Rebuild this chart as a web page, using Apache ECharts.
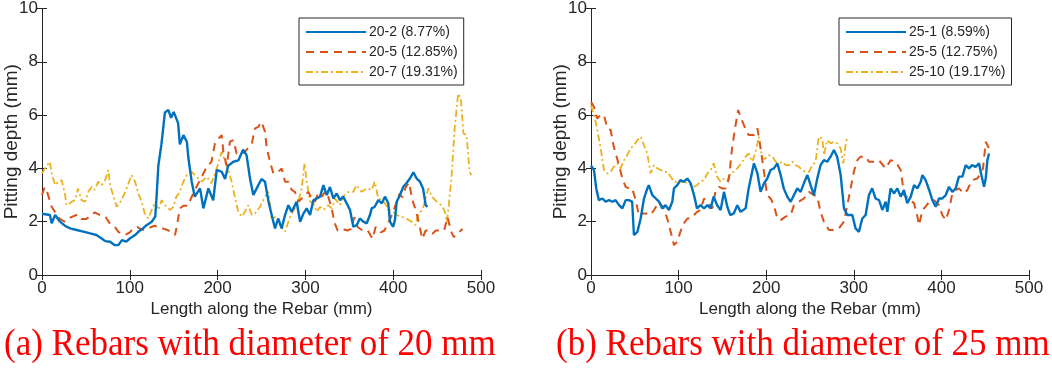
<!DOCTYPE html>
<html>
<head>
<meta charset="utf-8">
<script src="https://cdn.jsdelivr.net/npm/echarts@6/dist/echarts.min.js"></script>
<style>
  html, body { margin: 0; padding: 0; background: #fff; }
  #main { width: 1052px; height: 380px; }
</style>
</head>
<body>
<div id="main"></div>
<script>
// ---- data, [length mm, pitting depth mm] ----
const s20_2 = [[0,2.3],[1.5,2.31],[9,2.25],[11,1.94],[15,2.25],[20.5,2.0],[26,1.85],[32,1.75],[39.5,1.69],[47,1.63],[55,1.56],[62,1.5],[68,1.37],[72,1.27],[77.5,1.25],[83,1.12],[87,1.12],[91,1.31],[96,1.25],[100,1.37],[106,1.5],[110,1.63],[115,1.75],[119,1.87],[125,2.0],[129,2.19],[130.6,3.0],[132.5,4.1],[136,4.9],[140,6.1],[144,6.19],[147,5.9],[150,6.12],[151.5,6.19],[155,5.7],[157,4.9],[161,5.25],[165,5.0],
  [166.7,4.4],[170.5,3.5],[174,2.94],[180,3.25],[183.8,2.5],[189.5,3.25],[195,2.8],[199,3.94],[204.7,3.87],[208.5,3.6],[212,4.1],[218,4.25],[223.6,4.3],[229,4.7],[233,4.5],[237,3.6],[240.7,3.0],[244.5,3.25],[250,3.6],[254,3.5],[258,2.75],[261.6,2.25],[265.4,1.75],[269,2.12],[273,1.75],[276.8,2.25],[280.6,2.62],[284.4,2.37],[290,2.75],[294,2.0],[297.7,2.3],[301.5,2.5],[305.3,2.25],[309,2.8],[313,2.87],[316.7,2.94],[320.5,3.37],[324.3,3.0],
  [328,3.3],[331.8,2.87],[335.6,3.06],[339.4,2.81],[343,2.94],[347,2.69],[350.8,2.44],[354.6,1.81],[358.4,1.87],[362,2.12],[366,2.0],[369.8,1.94],[373.5,2.25],[375.5,2.5],[379,2.56],[383,2.81],[387,2.69],[390.6,2.94],[394.4,2.69],[396.3,2.0],[400,1.81],[402,2.06],[404,2.75],[407.7,3.0],[411.5,3.31],[415,3.44],[419,3.62],[423,3.85],[426.7,3.62],[430.5,3.5],[434,3.25],[437,2.62],[439,2.56]];

const s20_5 = [[0,3.0],[3,3.3],[6,3.1],[11,2.56],[16,2.3],[20.5,2.1],[26,2.0],[32,2.15],[40.6,2.27],[45,2.1],[50,2.1],[55,2.2],[60,2.35],[66,2.25],[72,2.2],[78,1.9],[83,1.8],[87,1.62],[91,1.55],[94.5,1.5],[100,1.6],[104,1.75],[108.6,1.8],[113,1.7],[120,1.7],[124,1.8],[128.7,1.85],[133,1.75],[137,1.75],[142,1.7],[148,1.6],[151.5,1.5],[154,1.9],[157,2.5],[161,2.6],[166.7,2.6],[170,2.9],
  [176,3.31],[182,3.69],[187.6,4.06],[193,4.25],[197,4.94],[201,5.12],[204.7,5.25],[206.6,4.6],[210.4,4.1],[214,5.0],[218,5.06],[221.7,4.56],[225.5,4.5],[231,4.62],[239,4.94],[242.6,5.5],[246.4,5.56],[250,5.75],[252,5.81],[254,5.37],[256,4.75],[259.7,4.25],[263.5,3.81],[269,3.87],[273,4.0],[276.8,3.5],[280.6,3.5],[284.4,3.19],[288,3.12],[292,2.75],[295.8,2.87],[299.6,3.0],[303.4,3.12],[307,2.87],[311,2.75],[314.7,3.12],[318.6,2.94],[322.4,3.12],[326,2.94],[330,2.5],
  [333,1.98],[336.7,1.67],[342,1.73],[348,1.67],[352,1.73],[355.7,2.17],[359.5,1.8],[365,1.67],[371,1.67],[376.5,1.36],[380,1.8],[386,1.6],[390,1.67],[395.5,2.04],[399,2.29],[403,2.66],[407,3.04],[410.6,2.91],[414,3.28],[418,3.47],[422,2.8],[425.8,2.42],[429.5,1.92],[433,1.36],[437,1.67],[441,1.67],[444.7,1.55],[448.5,1.67],[454,1.67],[458,1.67],[462,2.17],[465.5,1.67],[469,1.42],[473,1.55],[479,1.73]];

const s20_7 = [[0,3.81],[3.4,4.0],[9,4.25],[11,3.81],[15,3.37],[18.6,3.5],[22.4,3.56],[26,3.06],[28,2.62],[34,2.75],[37.6,2.81],[41,3.25],[45,2.81],[49,2.75],[52.8,3.12],[56.6,3.31],[60,3.19],[64,3.5],[68,3.37],[72,3.56],[75.5,3.94],[77.5,3.37],[81,3.0],[85,2.56],[90.7,2.81],[96.4,3.25],[102,3.75],[106,3.5],[109.7,3.06],[113.5,2.75],[117,2.31],[121,2.12],[125,2.44],[129,2.75],[132.5,2.44],[136.3,2.81],[140,2.62],[146,2.44],[149.6,2.56],[153,2.94],[157,3.12],[161,3.5],
  [165,3.75],[170.5,3.87],[176,3.69],[182,3.5],[187.6,3.69],[193,3.44],[199,4.0],[204.7,4.62],[208.5,4.25],[212.3,3.94],[216,3.5],[220,2.87],[223.6,2.37],[227.4,2.19],[231,2.37],[235,2.62],[239,2.25],[242.6,2.31],[248.3,2.56],[254,2.94],[258,3.12],[261.6,2.12],[267,2.19],[271,1.87],[276.8,1.62],[280.6,2.0],[284.4,2.31],[288,2.5],[292,2.75],[295.8,3.25],[299,4.19],[301.5,3.5],[305.3,2.75],[309,2.69],[313,2.37],[316.7,2.56],[320.5,2.44],[326,2.62],[330,2.5],
  [333.7,2.87],[339.4,2.62],[343,2.94],[349,3.12],[354.6,3.12],[358,3.37],[364,3.12],[370,3.25],[375.5,3.19],[379,3.5],[383,2.87],[387,2.81],[390.6,2.69],[396,2.44],[400,2.37],[404,2.25],[409.6,2.19],[415,2.12],[421,2.0],[425,1.87],[428.6,2.25],[434,2.5],[440,3.25],[444,2.94],[449.5,2.75],[455,2.62],[459,2.37],[461,2.0],[463,2.5],[466.6,3.75],[470,5.5],[474,6.81],[477,6.62],[480,5.31],[483.6,5.25],[487,3.87],[489,3.75]];

const s25_1 = [[0,4.1],[0.8,4.06],[3.4,3.94],[6,3.25],[9,2.81],[13,2.87],[16.7,2.75],[20.5,2.81],[24.4,2.75],[28,2.81],[32,2.62],[35.8,2.5],[39.6,2.81],[43,2.81],[47,2.75],[49,1.5],[53,1.62],[56.7,2.12],[60.5,2.87],[64.3,3.25],[66,3.37],[70,3.0],[74,2.87],[77.6,2.75],[81.4,2.5],[85,2.62],[89,2.44],[92.8,2.75],[94.7,3.25],[98.5,3.37],[102,3.56],[106,3.5],[110,3.62],[113.8,3.44],[117.6,3.0],[121,2.5],[125,2.62],[129,2.5],[132.8,2.62],[136.6,2.5],[140,2.94],[144,2.62],[148,2.44],[151.8,3.12],[155.6,2.56],[159,2.25],[163,2.31],
  [167,2.62],[170.8,2.37],[176.5,2.5],[180,3.25],[186,4.19],[190,3.81],[193.6,3.12],[197.5,3.44],[201.2,3.62],[205,3.94],[208.8,4.0],[212.7,4.19],[216.5,3.75],[220,3.25],[224,2.94],[227.9,2.75],[231.7,3.0],[235.5,3.25],[239.3,3.12],[243,3.44],[247,3.75],[250.7,3.37],[254.5,3.0],[258.3,3.62],[262,4.12],[265.9,4.31],[269.7,4.25],[273.5,4.44],[277.3,4.69],[281,4.44],[285,3.75],[288.8,2.5],[292.6,2.25],[298.3,2.25],[302,1.75],[305.9,1.62],[309.7,2.12],[313.5,2.25],[317.3,3.0],[321,3.25],[324.9,2.87],
  [328.8,2.81],[332.6,2.44],[336.4,2.75],[338.3,2.37],[342,3.25],[346,3.06],[349.7,3.25],[353.5,2.94],[357.3,3.19],[361,2.69],[365,2.94],[368.8,3.37],[372.6,3.25],[376.4,3.5],[378.3,3.75],[382,3.56],[386,3.19],[389.7,2.81],[393.5,2.56],[397.3,2.87],[401,2.87],[405,3.0],[408.7,3.31],[412.5,3.12],[416.3,3.25],[420,3.69],[424,3.69],[427.7,4.12],[431.5,4.0],[435,4.12],[439,4.06],[443,4.19],[444.8,3.87],[448.7,3.31],[450.6,3.62],[452.5,4.31],[454.4,4.56]];

const s25_5 = [[0,6.5],[3.4,6.31],[7,5.87],[11,6.0],[14.8,6.0],[18.6,5.5],[22.4,5.44],[26,4.81],[28,4.75],[32,4.12],[35.8,3.62],[39.6,3.31],[43.4,3.25],[47,3.25],[51,2.81],[55,2.19],[58.6,2.31],[62.4,2.31],[68,2.25],[72,2.44],[77.6,2.75],[83,2.5],[87,2.12],[91,1.62],[94.7,1.12],[98.6,1.25],[102,1.62],[106,1.94],[110,2.12],[113.8,2.12],[117.6,2.25],[121,2.37],[125,2.44],[129,2.87],[132.8,2.75],[138.5,2.5],[142,3.12],[146,3.31],[150,3.25],[153.7,3.25],[157.5,3.62],[161,4.75],[165,5.62],[168,6.19],
  [171,5.9],[174.6,5.62],[180,5.25],[186,5.25],[190,5.5],[193.6,4.75],[197.5,3.87],[201,3.0],[205,2.87],[208.8,2.62],[212.7,2.12],[216.5,2.06],[222,2.19],[227.9,2.25],[231.7,2.62],[237.4,2.75],[243,2.87],[248.8,3.12],[254.5,3.0],[258.3,2.94],[262,2.37],[265.9,2.0],[271.6,1.69],[277.3,1.69],[283,1.75],[288.8,2.0],[292.6,2.62],[296.4,3.25],[300,3.87],[304,4.31],[307.8,4.44],[313.5,4.44],[317.3,4.25],[323,4.25],[328.7,4.31],
  [336.4,4.0],[342,4.31],[347.8,4.25],[353.5,3.94],[355.4,3.5],[357.3,3.0],[363,2.87],[368.8,2.69],[372.6,2.19],[374.5,1.87],[378.3,2.44],[382,2.56],[386,2.75],[391.6,2.81],[397.3,2.62],[401,2.25],[405,2.06],[408.7,2.44],[412.5,3.06],[416.3,3.19],[420,3.25],[425.8,3.06],[429.6,3.19],[435,3.56],[441,3.62],[444.8,3.81],[447.5,4.0],[450.6,5.0],[454.4,4.75],[458,4.87]];

const s25_10 = [[0,6.37],[3.4,6.0],[7,5.5],[11,4.75],[14.8,3.94],[18.6,3.81],[22.4,3.87],[26,4.06],[30,4.19],[33.9,4.0],[37.7,4.31],[41.5,4.5],[45,4.75],[49,4.87],[53,5.06],[56.7,5.19],[60.5,4.87],[64.3,4.56],[68,3.81],[71.9,4.12],[75.7,4.0],[79.5,3.94],[83,3.87],[87,3.87],[91,3.69],[94.7,3.5],[98.6,3.5],[102,3.5],[106,3.5],[110,3.44],[113.8,3.37],[117.6,3.31],[121,3.37],[125,3.5],[129,3.56],[132.8,3.81],[136.6,3.94],[140,4.19],[144,3.69],[148,3.5],[151.8,3.62],[155.6,3.56],[159,3.81],[163,3.87],
  [167,4.0],[172.7,4.25],[176.5,4.44],[180,4.56],[184,4.25],[188,4.62],[191.7,5.19],[195.5,4.37],[199,4.37],[203,4.5],[207,4.44],[210.8,4.25],[214.6,4.19],[218.4,4.25],[222,4.12],[226,4.12],[229.8,4.25],[233.6,4.12],[237.4,4.06],[241,3.94],[245,3.87],[248.8,3.87],[252.6,4.12],[256.4,4.25],[260,5.19],[264,5.12],[266,4.5],[269.7,5.06],[273.5,4.94],[277.3,5.0],[281,4.94],[285,4.75],[288,4.19],[290.6,4.87],[292.6,5.19]];

const namesA = ['20-2 (8.77%)', '20-5 (12.85%)', '20-7 (19.31%)'];
const namesB = ['25-1 (8.59%)', '25-5 (12.75%)', '25-10 (19.17%)'];
const captions = ['(a) Rebars with diameter of 20 mm', '(b) Rebars with diameter of 25 mm'];
const xTicks = [0, 100, 200, 300, 400, 500];
const yTicks = [0, 2, 4, 6, 8, 10];

const colors = ['#0072BD', '#D95319', '#EDB120'];
const ink = '#262626';
const font = 'Liberation Sans, Arial, sans-serif';
const serif = 'Liberation Serif, Times New Roman, serif';

const chart = echarts.init(document.getElementById('main'), null, { renderer: 'canvas' });

const gridA = { left: 42, top: 6, width: 439, height: 269 };
const gridB = { left: 591, top: 6, width: 438, height: 269 };

function xAx(gi, pos, labels) {
  return {
    type: 'value', gridIndex: gi, position: pos,
    min: xTicks[0], max: xTicks[xTicks.length - 1], interval: 100,
    name: labels ? 'Length along the Rebar (mm)' : '',
    nameLocation: 'middle', nameGap: 26, nameMoveOverlap: false,
    nameTextStyle: { color: ink, fontSize: 17, fontFamily: font },
    axisLine: { show: true, lineStyle: { color: ink, width: 1 } },
    axisTick: { show: true, inside: true, length: 5, lineStyle: { color: ink } },
    axisLabel: { show: labels, color: ink, fontSize: 17, fontFamily: font, margin: 5 },
    splitLine: { show: false }
  };
}
function yAx(gi, pos, labels) {
  return {
    type: 'value', gridIndex: gi, position: pos,
    min: yTicks[0], max: yTicks[yTicks.length - 1], interval: 2,
    name: labels ? 'Pitting depth (mm)' : '',
    nameLocation: 'middle', nameGap: 21, nameMoveOverlap: false,
    nameTextStyle: { color: ink, fontSize: 19, fontFamily: font },
    axisLine: { show: true, lineStyle: { color: ink, width: 1 } },
    axisTick: { show: true, inside: true, length: 5, lineStyle: { color: ink } },
    axisLabel: { show: labels, color: ink, fontSize: 17, fontFamily: font, margin: 4 },
    splitLine: { show: false }
  };
}

const lineStyles = [
  { width: 2.4, type: 'solid' },
  { width: 2, type: [8, 6] },
  { width: 1.8, type: [7, 3, 2, 3] }
];

function mk(name, data, i, xi, yi) {
  return {
    name: name, type: 'line', data: data,
    xAxisIndex: xi, yAxisIndex: yi,
    symbol: 'none', smooth: false,
    color: colors[i],
    lineStyle: Object.assign({ color: colors[i] }, lineStyles[i]),
    z: 3 - i
  };
}

function legend(names, left) {
  return {
    data: names, orient: 'vertical', left: left, top: 18,
    itemWidth: 60, itemHeight: 14, itemGap: 6,
    padding: [7, 6, 6, 6],
    itemStyle: { opacity: 0 },
    borderColor: ink, borderWidth: 1, backgroundColor: '#fff',
    textStyle: { color: ink, fontSize: 14, fontFamily: font, padding: [0, 0, 0, -2] }
  };
}

const option = {
  animation: false,
  backgroundColor: '#fff',
  grid: [gridA, gridB],
  xAxis: [xAx(0, 'bottom', true), xAx(0, 'top', false), xAx(1, 'bottom', true), xAx(1, 'top', false)],
  yAxis: [yAx(0, 'left', true), yAx(0, 'right', false), yAx(1, 'left', true), yAx(1, 'right', false)],
  legend: [legend(namesA, 299), legend(namesB, 839)],
  series: [
    mk(namesA[0], s20_2, 0, 0, 0),
    mk(namesA[1], s20_5, 1, 0, 0),
    mk(namesA[2], s20_7, 2, 0, 0),
    mk(namesB[0], s25_1, 0, 2, 2),
    mk(namesB[1], s25_5, 1, 2, 2),
    mk(namesB[2], s25_10, 2, 2, 2)
  ],
  graphic: [
    { type: 'text', left: 4, top: 327, scaleY: 1.06,
      style: { text: captions[0], fill: '#ff0000', fontSize: 35, fontFamily: serif } },
    { type: 'text', left: 556, top: 327, scaleY: 1.06,
      style: { text: captions[1], fill: '#ff0000', fontSize: 35, fontFamily: serif } }
  ]
};

chart.setOption(option);
</script>
</body>
</html>
